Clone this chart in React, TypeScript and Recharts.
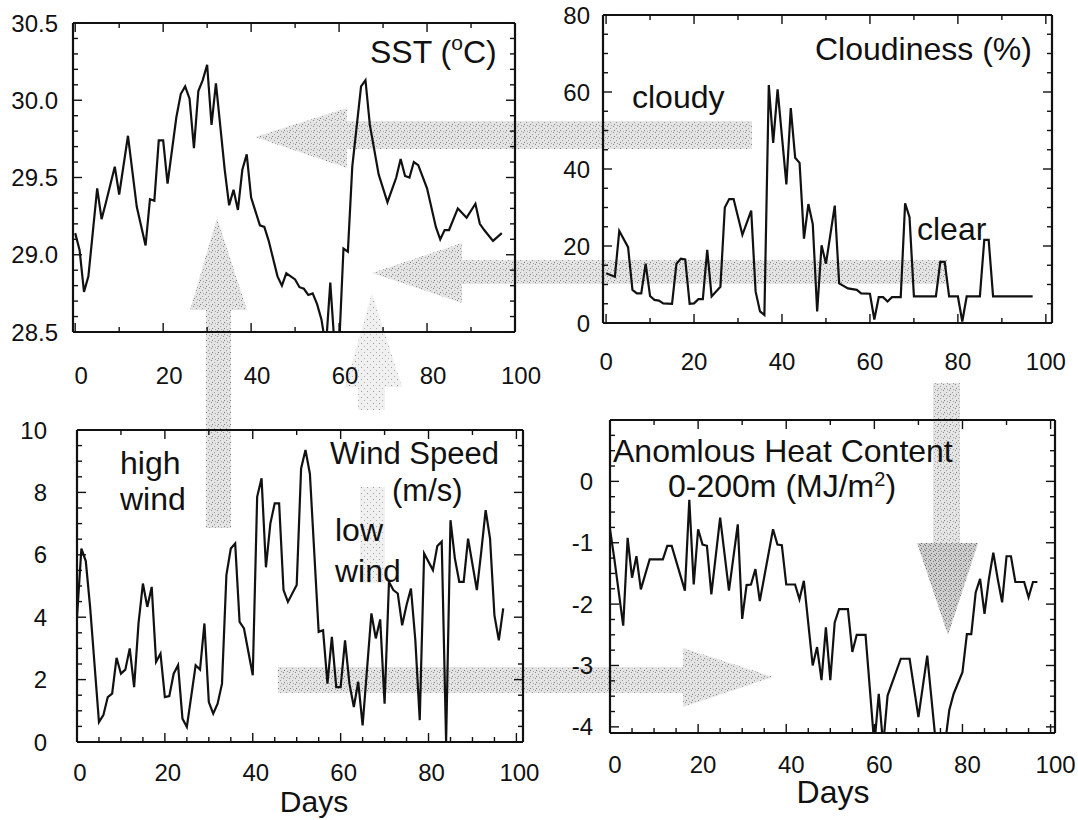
import React from "react";
import { Line, LineChart, XAxis, YAxis } from "recharts";

// days / values (approx, daily samples)
const sstDays = [0, 1, 2, 3, 5, 6, 7, 9, 10, 12, 14, 16, 17, 18, 19, 20, 21, 23, 24, 25, 26, 27, 28, 29, 30, 31, 32, 34, 35, 36, 37, 38, 39, 40, 42, 43, 44, 46, 47, 48, 50, 51, 52, 53, 54, 55, 56, 57, 58, 59, 60, 61, 62, 63, 65, 66, 67, 69, 71, 73, 74, 75, 76, 77, 78, 80, 82, 83, 84, 85, 87, 89, 91, 92, 93, 95, 97];
const sstVals = [29.14, 29.03, 28.76, 28.86, 29.43, 29.23, 29.34, 29.57, 29.39, 29.77, 29.31, 29.06, 29.36, 29.35, 29.74, 29.74, 29.46, 29.89, 30.04, 30.09, 30.01, 29.69, 30.06, 30.13, 30.23, 29.84, 30.11, 29.55, 29.32, 29.42, 29.29, 29.55, 29.65, 29.37, 29.19, 29.18, 29.09, 28.86, 28.8, 28.88, 28.84, 28.79, 28.78, 28.74, 28.75, 28.68, 28.58, 28.4, 28.82, 28.4, 28.4, 29.04, 29.02, 29.57, 30.09, 30.13, 29.84, 29.52, 29.34, 29.5, 29.62, 29.51, 29.5, 29.6, 29.58, 29.43, 29.18, 29.1, 29.16, 29.16, 29.3, 29.24, 29.33, 29.2, 29.16, 29.09, 29.14];

const cloudDays = [0, 2, 3, 5, 6, 7, 8, 9, 10, 11, 12, 13, 15, 16, 17, 18, 19, 20, 21, 22, 23, 24, 26, 27, 28, 29, 31, 33, 34, 35, 36, 37, 38, 39, 41, 42, 43, 44, 45, 46, 47, 48, 49, 50, 52, 53, 55, 57, 58, 60, 61, 62, 63, 64, 65, 67, 68, 69, 70, 75, 76, 77, 78, 80, 81, 82, 85, 86, 87, 88, 97];
const cloudVals = [12.9, 12.0, 23.9, 19.7, 8.6, 7.7, 7.7, 15.4, 7.0, 6.0, 5.8, 5.1, 5.0, 15.4, 16.7, 16.5, 5.0, 5.1, 6.2, 6.2, 19.0, 6.9, 9.4, 30.0, 32.2, 32.2, 22.9, 29.2, 8.2, 3.0, 2.1, 61.8, 46.8, 60.7, 36.0, 55.8, 42.9, 41.6, 21.9, 30.9, 25.7, 3.0, 20.2, 15.4, 30.5, 10.3, 9.0, 8.6, 7.7, 7.6, 0.9, 6.7, 6.7, 5.6, 6.7, 6.7, 31.1, 27.5, 6.9, 6.9, 15.9, 15.9, 6.9, 6.9, 0.4, 6.9, 6.9, 21.6, 21.6, 6.9, 6.9];

const windDays = [0, 1, 2, 3, 5, 6, 7, 8, 9, 10, 11, 12, 13, 14, 15, 16, 17, 18, 19, 20, 21, 22, 23, 24, 25, 27, 28, 29, 30, 31, 32, 33, 34, 35, 36, 37, 38, 40, 41, 42, 43, 44, 45, 46, 47, 48, 50, 51, 52, 53, 55, 56, 57, 58, 59, 60, 61, 62, 63, 64, 65, 67, 68, 69, 70, 71, 72, 73, 74, 75, 76, 77, 78, 79, 81, 82, 83, 84, 85, 86, 87, 88, 89, 91, 92, 93, 94, 95, 96, 97];
const windVals = [4.0, 6.2, 5.8, 4.3, 0.64, 0.86, 1.44, 1.55, 2.7, 2.19, 2.32, 3.0, 1.76, 3.8, 5.08, 4.33, 4.97, 2.57, 2.83, 1.44, 1.47, 2.19, 2.46, 0.75, 0.48, 2.46, 2.32, 3.8, 1.28, 0.91, 1.23, 1.87, 5.35, 6.2, 6.36, 3.85, 3.64, 2.14, 7.86, 8.45, 5.6, 7.0, 7.65, 7.65, 4.87, 4.49, 5.03, 8.77, 9.36, 8.6, 3.53, 3.58, 1.87, 3.37, 1.76, 1.76, 3.26, 1.87, 1.12, 1.93, 0.53, 4.12, 3.32, 3.93, 1.23, 5.13, 4.87, 4.76, 3.74, 4.39, 4.92, 3.26, 0.7, 6.04, 5.51, 6.28, 6.42, 0, 7.11, 5.88, 5.13, 5.13, 6.52, 4.87, 6.1, 7.43, 6.52, 4.06, 3.26, 4.28];

const heatDays = [0, 1, 3, 4, 5, 6, 7, 9, 12, 13, 14, 17, 18, 19, 20, 21, 22, 23, 25, 27, 29, 30, 31, 32, 33, 34, 37, 38, 39, 40, 42, 43, 44, 46, 47, 48, 49, 50, 51, 52, 54, 55, 56, 58, 60, 61, 62, 63, 66, 68, 70, 72, 74, 76, 77, 78, 80, 81, 82, 83, 84, 85, 86, 87, 88, 89, 90, 91, 92, 94, 95, 96, 97];
const heatVals = [-0.78, -1.27, -2.35, -0.92, -1.57, -1.22, -1.76, -1.27, -1.27, -1.05, -1.05, -1.78, -0.3, -1.68, -0.78, -1.03, -1.05, -1.84, -0.59, -1.78, -0.7, -2.24, -1.69, -1.68, -1.43, -1.95, -0.78, -1.03, -1.04, -1.68, -1.68, -1.92, -1.62, -3.0, -2.7, -3.24, -2.38, -3.24, -2.3, -2.08, -2.08, -2.78, -2.5, -2.5, -4.3, -3.46, -4.3, -3.49, -2.89, -2.89, -3.84, -2.84, -4.3, -4.3, -3.73, -3.46, -3.11, -2.49, -2.49, -1.81, -1.59, -2.16, -1.59, -1.16, -1.59, -1.97, -1.22, -1.22, -1.64, -1.64, -1.89, -1.64, -1.64];

// tick lists
const dayMajor = [0, 20, 40, 60, 80, 100];
const dayMinor10 = [10, 30, 50, 70, 90];
const dayMinor5 = [5, 10, 15, 25, 30, 35, 45, 50, 55, 65, 70, 75, 85, 90, 95];
const sstMajor = [28.5, 29, 29.5, 30, 30.5];
const sstMinor = [28.6, 28.7, 28.8, 28.9, 29.1, 29.2, 29.3, 29.4, 29.6, 29.7, 29.8, 29.9, 30.1, 30.2, 30.3, 30.4];
const cloudMajor = [0, 20, 40, 60, 80];
const cloudMinor = [5, 10, 15, 25, 30, 35, 45, 50, 55, 65, 70, 75];
const windMajor = [0, 2, 4, 6, 8, 10];
const windMinor = [0.5, 1, 1.5, 2.5, 3, 3.5, 4.5, 5, 5.5, 6.5, 7, 7.5, 8.5, 9, 9.5];
const heatMajor = [-4, -3, -2, -1, 0];
const heatMinor = [-3.75, -3.5, -3.25, -2.75, -2.5, -2.25, -1.75, -1.5, -1.25, -0.75, -0.5, -0.25, 0.25, 0.5, 0.75];

const FONT = "'Liberation Sans', Arial, Helvetica, sans-serif";
const INK = "#111";

const zip = (days: number[], vals: number[]) => days.map((d, i) => ({ day: d, v: vals[i] }));

function FrameTick(props: any) {
	const { x, y, payload, side, majors, gap, fmt, shift = 0 } = props;
	const v = payload.value;
	const major = majors.some((m: number) => Math.abs(m - v) < 1e-6);
	const len = major ? 9 : 5;
	let line;
	if (side === "left") line = <line x1={x} y1={y} x2={x + len} y2={y} />;
	else if (side === "right") line = <line x1={x} y1={y} x2={x - len} y2={y} />;
	else if (side === "top") line = <line x1={x} y1={y} x2={x} y2={y + len} />;
	else line = <line x1={x} y1={y} x2={x} y2={y - len} />;
	return (
		<g stroke={INK} strokeWidth={1.4}>
			{line}
			{major && fmt && side === "left" && (
				<text x={x - gap} y={y + 8.5} textAnchor="end" fontSize={24} fontFamily={FONT} fill={INK} stroke="none">
					{fmt(v)}
				</text>
			)}
			{major && fmt && side === "bottom" && (
				<text x={x + shift} y={y + gap} textAnchor="middle" fontSize={24} fontFamily={FONT} fill={INK} stroke="none">
					{fmt(v)}
				</text>
			)}
		</g>
	);
}

type PanelProps = {
	days: number[];
	vals: number[];
	left: number;
	top: number;
	width: number;
	height: number;
	xDomain: [number, number];
	yDomain: [number, number];
	xMinorBottom: number[];
	yMajor: number[];
	yMinor: number[];
	yFmt: (v: number) => string;
	yGap: number;
	xGap: number;
	xShift: number;
};

function Panel(p: PanelProps) {
	const L = 90, R = 40, T = 12, B = 70;
	const data = zip(p.days, p.vals);
	const axisLine = { stroke: INK, strokeWidth: 2.2 };
	return (
		<div style={{ position: "absolute", left: p.left - L, top: p.top - T }}>
			<LineChart width={p.width + L + R} height={p.height + T + B} data={data} margin={{ top: 0, right: 0, bottom: 0, left: 0 }}>
				<XAxis
					xAxisId="b"
					dataKey="day"
					type="number"
					domain={p.xDomain}
					allowDataOverflow
					ticks={[...dayMajor, ...p.xMinorBottom]}
					interval={0}
					height={B}
					tickSize={0}
					tickMargin={0}
					tickLine={false}
					axisLine={axisLine}
					tick={(t: any) => <FrameTick {...t} side="bottom" majors={dayMajor} gap={p.xGap} shift={p.xShift} fmt={String} />}
				/>
				<XAxis
					xAxisId="t"
					orientation="top"
					dataKey="day"
					type="number"
					domain={p.xDomain}
					allowDataOverflow
					ticks={[...dayMajor, ...dayMinor10]}
					interval={0}
					height={T}
					tickSize={0}
					tickMargin={0}
					tickLine={false}
					axisLine={axisLine}
					tick={(t: any) => <FrameTick {...t} side="top" majors={dayMajor} />}
				/>
				<YAxis
					yAxisId="l"
					type="number"
					domain={p.yDomain}
					allowDataOverflow
					ticks={[...p.yMajor, ...p.yMinor]}
					interval={0}
					width={L}
					tickSize={0}
					tickMargin={0}
					tickLine={false}
					axisLine={axisLine}
					tick={(t: any) => <FrameTick {...t} side="left" majors={p.yMajor} gap={p.yGap} fmt={p.yFmt} />}
				/>
				<YAxis
					yAxisId="r"
					orientation="right"
					type="number"
					domain={p.yDomain}
					allowDataOverflow
					ticks={[...p.yMajor, ...p.yMinor]}
					interval={0}
					width={R}
					tickSize={0}
					tickMargin={0}
					tickLine={false}
					axisLine={axisLine}
					tick={(t: any) => <FrameTick {...t} side="right" majors={p.yMajor} />}
				/>
				<Line xAxisId="b" yAxisId="l" dataKey="v" type="linear" stroke={INK} strokeWidth={2.2} dot={false} activeDot={false} isAnimationActive={false} />
				<Line xAxisId="t" yAxisId="r" dataKey="v" type="linear" stroke="none" dot={false} activeDot={false} isAnimationActive={false} />
			</LineChart>
		</div>
	);
}

function Txt({ x, y, size = 32, anchor = "start", children }: { x: number; y: number; size?: number; anchor?: string; children: React.ReactNode }) {
	return (
		<text x={x} y={y} fontSize={size} fontFamily={FONT} fill={INK} textAnchor={anchor as any}>
			{children}
		</text>
	);
}

function Backdrop() {
	return (
		<svg width={1078} height={820} style={{ position: "absolute", left: 0, top: 0 }}>
			<defs>
				<pattern id="stip" width="6" height="6" patternUnits="userSpaceOnUse">
					<rect width="6" height="6" fill="#e4e4e4" />
					<rect x="1" y="0" width="1" height="1" fill="#888" />
					<rect x="4" y="2" width="1" height="1" fill="#999" />
					<rect x="2" y="4" width="1" height="1" fill="#7a7a7a" />
					<rect x="5" y="5" width="1" height="1" fill="#a0a0a0" />
				</pattern>
				<pattern id="stipLight" width="6" height="6" patternUnits="userSpaceOnUse">
					<rect width="6" height="6" fill="#f0f0f0" />
					<rect x="1" y="1" width="1" height="1" fill="#9a9a9a" />
					<rect x="4" y="4" width="1" height="1" fill="#b0b0b0" />
				</pattern>
				<pattern id="stipDark" width="5" height="5" patternUnits="userSpaceOnUse">
					<rect width="5" height="5" fill="#cdcdcd" />
					<rect x="0" y="0" width="1" height="1" fill="#666" />
					<rect x="3" y="1" width="1" height="1" fill="#777" />
					<rect x="1" y="3" width="1" height="1" fill="#6a6a6a" />
					<rect x="4" y="4" width="1" height="1" fill="#888" />
				</pattern>
			</defs>
			{/* cloudy -> SST */}
			<polygon points="752,121 347,121 347,108 255,137 347,168 347,149 752,149" fill="url(#stip)" />
			{/* clear -> SST */}
			<polygon points="947,260 462,260 462,243 372,273 462,303 462,284 947,284" fill="url(#stip)" />
			{/* high wind -> SST */}
			<polygon points="206,528 206,310 190,310 217,218 247,310 231,310 231,528" fill="url(#stip)" />
			{/* low wind -> SST */}
			<polygon points="358,410 358,387 345,387 372,293 402,387 385,387 385,410" fill="url(#stipLight)" />
			<rect x={360} y={487} width={25} height={96} fill="url(#stipLight)" />
			{/* low wind -> heat content */}
			<polygon points="278,667 683,667 683,648 773,677 683,707 683,693 278,693" fill="url(#stip)" />
			{/* clear -> heat content */}
			<rect x={933} y={383} width={27} height={160} fill="url(#stip)" />
			<polygon points="917,543 978,543 948,635" fill="url(#stipDark)" />

			<Txt x={370} y={63}>
				SST (<tspan dy={-13} fontSize={21}>o</tspan>
				<tspan dy={13}>C)</tspan>
			</Txt>
			<Txt x={815} y={60}>Cloudiness (%)</Txt>
			<Txt x={632} y={108}>cloudy</Txt>
			<Txt x={917} y={240}>clear</Txt>
			<Txt x={120} y={474}>high</Txt>
			<Txt x={120} y={510}>wind</Txt>
			<Txt x={330} y={464} size={31}>Wind Speed</Txt>
			<Txt x={392} y={501} size={31}>(m/s)</Txt>
			<Txt x={335} y={541}>low</Txt>
			<Txt x={335} y={582}>wind</Txt>
			<Txt x={613} y={462}>Anomlous Heat Content</Txt>
			<Txt x={668} y={497}>
				0-200m (MJ/m<tspan dy={-11} fontSize={20}>2</tspan>
				<tspan dy={11}>)</tspan>
			</Txt>
			<Txt x={314} y={812} size={30} anchor="middle">Days</Txt>
			<Txt x={833} y={803} size={32} anchor="middle">Days</Txt>
		</svg>
	);
}

export default function App() {
	return (
		<div style={{ position: "absolute", left: 0, top: 0, width: 1078, height: 820, background: "#fff", overflow: "hidden" }}>
			<Backdrop />
			<Panel
				days={sstDays}
				vals={sstVals}
				left={73}
				top={23}
				width={442}
				height={309}
				xDomain={[-0.5, 100]}
				yDomain={[28.5, 30.5]}
				xMinorBottom={dayMinor10}
				yMajor={sstMajor}
				yMinor={sstMinor}
				yFmt={(v) => v.toFixed(1)}
				yGap={15}
				xGap={52}
				xShift={6}
			/>
			<Panel
				days={cloudDays}
				vals={cloudVals}
				left={603}
				top={15}
				width={449}
				height={308}
				xDomain={[-0.7, 101.4]}
				yDomain={[0, 80]}
				xMinorBottom={dayMinor10}
				yMajor={cloudMajor}
				yMinor={cloudMinor}
				yFmt={String}
				yGap={13}
				xGap={47}
				xShift={0}
			/>
			<Panel
				days={windDays}
				vals={windVals}
				left={77}
				top={430}
				width={446}
				height={312}
				xDomain={[0, 101.5]}
				yDomain={[0, 10]}
				xMinorBottom={dayMinor5}
				yMajor={windMajor}
				yMinor={windMinor}
				yFmt={String}
				yGap={30}
				xGap={39}
				xShift={3}
			/>
			<Panel
				days={heatDays}
				vals={heatVals}
				left={610}
				top={420}
				width={445}
				height={313}
				xDomain={[0, 101]}
				yDomain={[-4.1, 1]}
				xMinorBottom={dayMinor5}
				yMajor={heatMajor}
				yMinor={heatMinor}
				yFmt={String}
				yGap={17}
				xGap={40}
				xShift={5}
			/>
		</div>
	);
}
